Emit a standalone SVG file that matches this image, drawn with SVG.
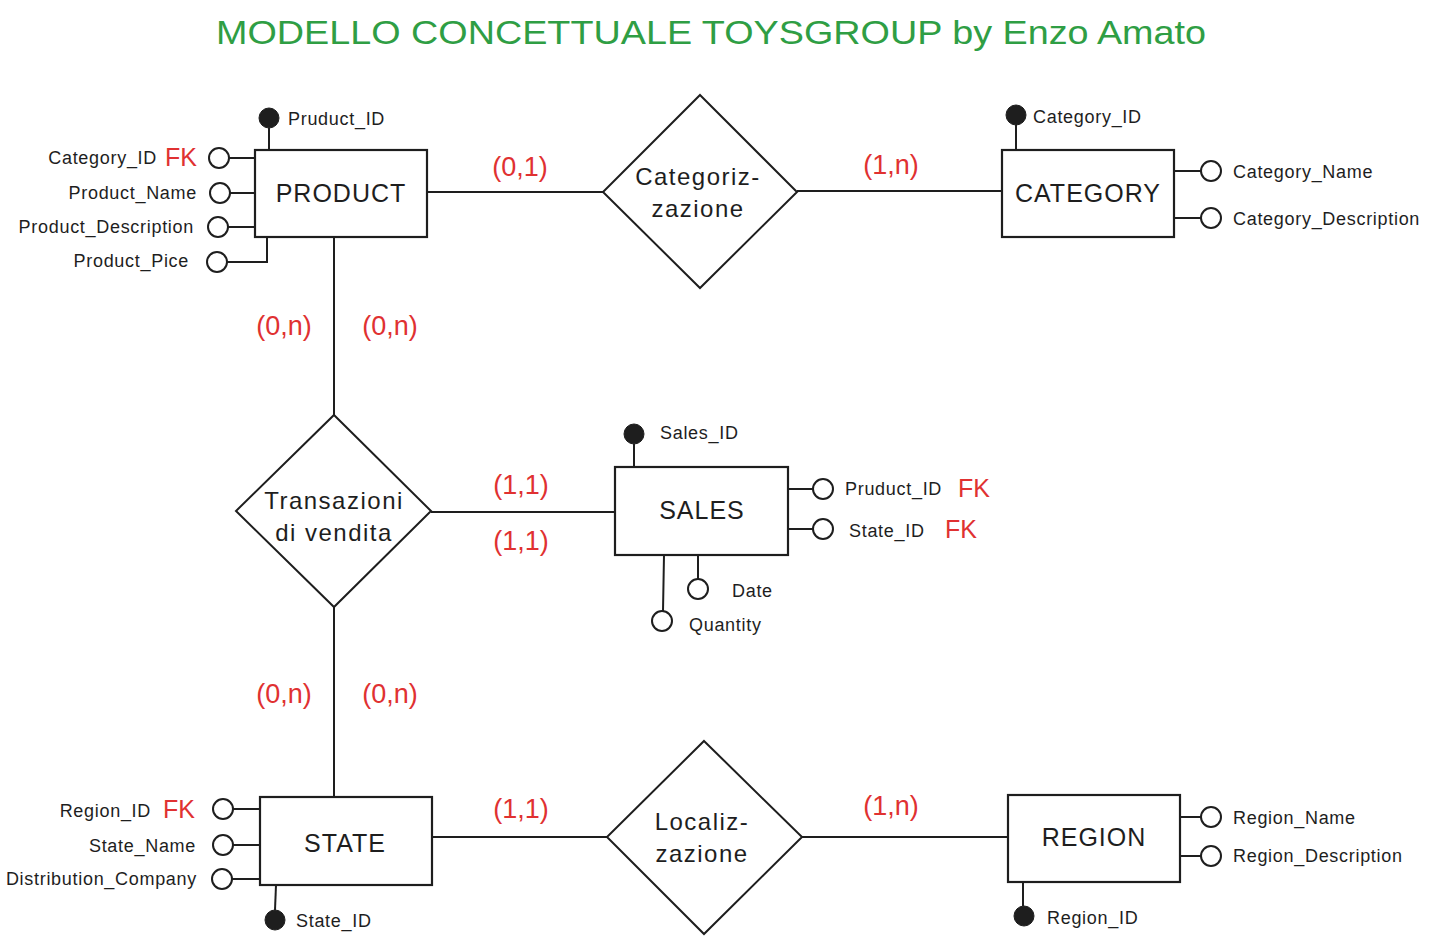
<svg xmlns="http://www.w3.org/2000/svg" width="1431" height="944" viewBox="0 0 1431 944">
<style>
.bg{fill:#ffffff}
.ent{fill:#ffffff;stroke:#1e1e1e;stroke-width:2.2}
.rel{fill:#ffffff;stroke:#1e1e1e;stroke-width:2}
.ln{stroke:#1e1e1e;stroke-width:2;fill:none}
.att{fill:#ffffff;stroke:#1e1e1e;stroke-width:2}
.key{fill:#1e1e1e;stroke:#1e1e1e;stroke-width:1}
text{font-family:"Liberation Sans",Arial,sans-serif;fill:#1e1e1e}
.title{font-size:34px;fill:#2f9e44}
.en{font-size:25px;text-anchor:middle;dominant-baseline:central;letter-spacing:1px}
.rt{font-size:24px;text-anchor:middle;dominant-baseline:central;letter-spacing:1.5px}
.at{font-size:18px;dominant-baseline:central;letter-spacing:0.7px}
.end{text-anchor:end}
.fk{font-size:25px;fill:#e03131;dominant-baseline:central}
.card{font-size:27px;fill:#e03131;text-anchor:middle;dominant-baseline:central}
</style>
<rect class="bg" x="0" y="0" width="1431" height="944"/>
<text class="title" x="711" y="44" text-anchor="middle" textLength="990" lengthAdjust="spacingAndGlyphs">MODELLO CONCETTUALE TOYSGROUP by Enzo Amato</text>

<g id="connectors">
  <path class="ln" d="M427 192 H603"/>
  <path class="ln" d="M797 191 H1002"/>
  <path class="ln" d="M334 237 V415"/>
  <path class="ln" d="M431 512 H615"/>
  <path class="ln" d="M334 607 V797"/>
  <path class="ln" d="M432 837 H607"/>
  <path class="ln" d="M802 837 H1008"/>
  <text class="card" x="520" y="167">(0,1)</text>
  <text class="card" x="891" y="165">(1,n)</text>
  <text class="card" x="284" y="326">(0,n)</text>
  <text class="card" x="390" y="326">(0,n)</text>
  <text class="card" x="521" y="485">(1,1)</text>
  <text class="card" x="521" y="541">(1,1)</text>
  <text class="card" x="284" y="694">(0,n)</text>
  <text class="card" x="390" y="694">(0,n)</text>
  <text class="card" x="521" y="809">(1,1)</text>
  <text class="card" x="891" y="806">(1,n)</text>
</g>

<g id="product">
  <path class="ln" d="M269 128 V150"/>
  <circle class="key" cx="269" cy="118" r="10"/>
  <text class="at" x="288" y="119">Pruduct_ID</text>
  <path class="ln" d="M229 158 H255 M230 193 H255 M228 227 H255 M227 262 H267 V237"/>
  <circle class="att" cx="219" cy="158" r="10"/>
  <circle class="att" cx="220" cy="193" r="10"/>
  <circle class="att" cx="218" cy="227" r="10"/>
  <circle class="att" cx="217" cy="262" r="10"/>
  <text class="at end" x="157" y="158">Category_ID</text>
  <text class="fk" x="165" y="157">FK</text>
  <text class="at end" x="197" y="193">Product_Name</text>
  <text class="at end" x="194" y="227">Product_Description</text>
  <text class="at end" x="189" y="261">Product_Pice</text>
  <rect class="ent" x="255" y="150" width="172" height="87"/>
  <text class="en" x="341" y="193">PRODUCT</text>
</g>

<g id="categorizzazione">
  <polygon class="rel" points="700,95 797,192 700,288 603,192"/>
  <text class="rt" x="698" y="176">Categoriz-</text>
  <text class="rt" x="698" y="208">zazione</text>
</g>

<g id="category">
  <path class="ln" d="M1016 125 V150"/>
  <circle class="key" cx="1016" cy="115" r="10"/>
  <text class="at" x="1033" y="117">Category_ID</text>
  <path class="ln" d="M1174 171 H1201 M1174 218 H1201"/>
  <circle class="att" cx="1211" cy="171" r="10"/>
  <circle class="att" cx="1211" cy="218" r="10"/>
  <text class="at" x="1233" y="172">Category_Name</text>
  <text class="at" x="1233" y="219">Category_Description</text>
  <rect class="ent" x="1002" y="150" width="172" height="87"/>
  <text class="en" x="1088" y="193">CATEGORY</text>
</g>

<g id="transazioni">
  <polygon class="rel" points="334,415 431,511 334,607 236,511"/>
  <text class="rt" x="334" y="500">Transazioni</text>
  <text class="rt" x="334" y="532">di vendita</text>
</g>

<g id="sales">
  <path class="ln" d="M634 444 V467"/>
  <circle class="key" cx="634" cy="434" r="10"/>
  <text class="at" x="660" y="433">Sales_ID</text>
  <path class="ln" d="M788 489 H813 M788 529 H813"/>
  <circle class="att" cx="823" cy="489" r="10"/>
  <circle class="att" cx="823" cy="529" r="10"/>
  <text class="at" x="845" y="489">Pruduct_ID</text>
  <text class="fk" x="958" y="488">FK</text>
  <text class="at" x="849" y="531">State_ID</text>
  <text class="fk" x="945" y="529">FK</text>
  <path class="ln" d="M664 555 L663 611 M698 555 V579"/>
  <circle class="att" cx="662" cy="621" r="10"/>
  <circle class="att" cx="698" cy="589" r="10"/>
  <text class="at" x="732" y="591">Date</text>
  <text class="at" x="689" y="625">Quantity</text>
  <rect class="ent" x="615" y="467" width="173" height="88"/>
  <text class="en" x="702" y="510">SALES</text>
</g>

<g id="state">
  <path class="ln" d="M233 809 H260 M233 845 H260 M232 879 H260"/>
  <circle class="att" cx="223" cy="809" r="10"/>
  <circle class="att" cx="223" cy="845" r="10"/>
  <circle class="att" cx="222" cy="879" r="10"/>
  <text class="at end" x="151" y="811">Region_ID</text>
  <text class="fk" x="163" y="809">FK</text>
  <text class="at end" x="196" y="846">State_Name</text>
  <text class="at end" x="197" y="879">Distribution_Company</text>
  <path class="ln" d="M276 885 L275 910"/>
  <circle class="key" cx="275" cy="920" r="10"/>
  <text class="at" x="296" y="921">State_ID</text>
  <rect class="ent" x="260" y="797" width="172" height="88"/>
  <text class="en" x="345" y="843">STATE</text>
</g>

<g id="localizzazione">
  <polygon class="rel" points="704,741 802,837 704,934 607,837"/>
  <text class="rt" x="702" y="821">Localiz-</text>
  <text class="rt" x="702" y="853">zazione</text>
</g>

<g id="region">
  <path class="ln" d="M1180 817 H1201 M1180 856 H1201"/>
  <circle class="att" cx="1211" cy="817" r="10"/>
  <circle class="att" cx="1211" cy="856" r="10"/>
  <text class="at" x="1233" y="818">Region_Name</text>
  <text class="at" x="1233" y="856">Region_Description</text>
  <path class="ln" d="M1023 882 V906"/>
  <circle class="key" cx="1024" cy="916" r="10"/>
  <text class="at" x="1047" y="918">Region_ID</text>
  <rect class="ent" x="1008" y="795" width="172" height="87"/>
  <text class="en" x="1094" y="837">REGION</text>
</g>
</svg>
